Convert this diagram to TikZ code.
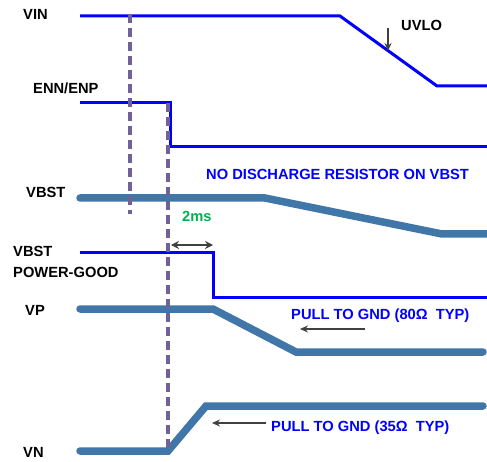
\documentclass[tikz,border=0pt]{standalone}
\usepackage{fontspec}
\setmainfont{Liberation Sans}
\usetikzlibrary{arrows.meta}
\definecolor{sig}{RGB}{0,0,255}
\definecolor{fatc}{RGB}{65,118,168}
\definecolor{dashc}{RGB}{112,98,152}
\definecolor{grn}{RGB}{0,176,80}
\definecolor{arr}{RGB}{64,64,64}
\begin{document}
\begin{tikzpicture}[x=1pt,y=-1pt,
  lbl/.style={anchor=base west,inner sep=0pt,font=\fontsize{14.7}{16}\selectfont\bfseries},
  thinwave/.style={draw=sig,line width=3pt},
  fatwave/.style={draw=fatc,line width=7.5pt,line cap=round},
  guide/.style={draw=dashc,line width=3.2pt,dash pattern=on 9pt off 5pt},
  pointer/.style={draw=arr,line width=1.3pt,-{Stealth[length=8pt,width=7pt]}},
  span/.style={draw=arr,line width=1.3pt,{Stealth[length=8pt,width=8pt]}-{Stealth[length=8pt,width=8pt]}},
]
\useasboundingbox (0,0) rectangle (487,462);

% labels
\node[lbl] (lvin) at (23,20) {VIN};
\node[lbl] (lenn) at (33,94) {ENN/ENP};
\node[lbl] (lvbst) at (26,198) {VBST};
\node[lbl] (lpg1) at (13,257) {VBST};
\node[lbl] (lpg2) at (13,278) {POWER-GOOD};
\node[lbl] (lvp) at (25,316) {VP};
\node[lbl] (lvn) at (23,457) {VN};
\node[lbl] (luvlo) at (401,31) {UVLO};
\node[lbl,text=sig] (lnodis) at (206,180) {NO DISCHARGE RESISTOR ON VBST};
\node[lbl,text=grn] (l2ms) at (182,222) {2ms};
\node[lbl,text=sig] (lp80) at (291,319) {PULL TO GND (80Ω\ \ TYP)};
\node[lbl,text=sig] (lp35) at (271,431) {PULL TO GND (35Ω\ \ TYP)};

% thin waveforms
\draw[thinwave] (80,16) -- (340,16) -- (437,86) -- (487,86);
\draw[thinwave] (80,103) -- (170,103) -- (170,147) -- (487,147);
\draw[thinwave] (80,253) -- (213,253) -- (213,297) -- (487,297);

% thick waveforms
\draw[fatwave] (80,198) -- (265,198) -- (442,234) -- (490,234);
\draw[fatwave] (80,309) -- (213,309) -- (296,352) -- (483,352);
\draw[fatwave] (80,451) -- (168,451) -- (206,406) -- (483,406);

% arrows
\coordinate (uv1) at (388,28);
\coordinate (uv2) at (388,51);
\draw[pointer] (uv1) -- (uv2);
\coordinate (t1) at (171,245);
\coordinate (t2) at (213,245);
\draw[span] (t1) -- (t2);
\coordinate (a80s) at (365,329);
\coordinate (a80e) at (300,329);
\draw[pointer] (a80s) -- (a80e);
\coordinate (a35s) at (266,423);
\coordinate (a35e) at (212,423);
\draw[pointer] (a35s) -- (a35e);

% dashed guides
\coordinate (g1t) at (130,14);
\coordinate (g1b) at (130,214);
\draw[guide] (g1t) -- (g1b);
\coordinate (g2t) at (168,103);
\coordinate (g2b) at (168,453);
\draw[guide] (g2t) -- (g2b);
\end{tikzpicture}
\end{document}
